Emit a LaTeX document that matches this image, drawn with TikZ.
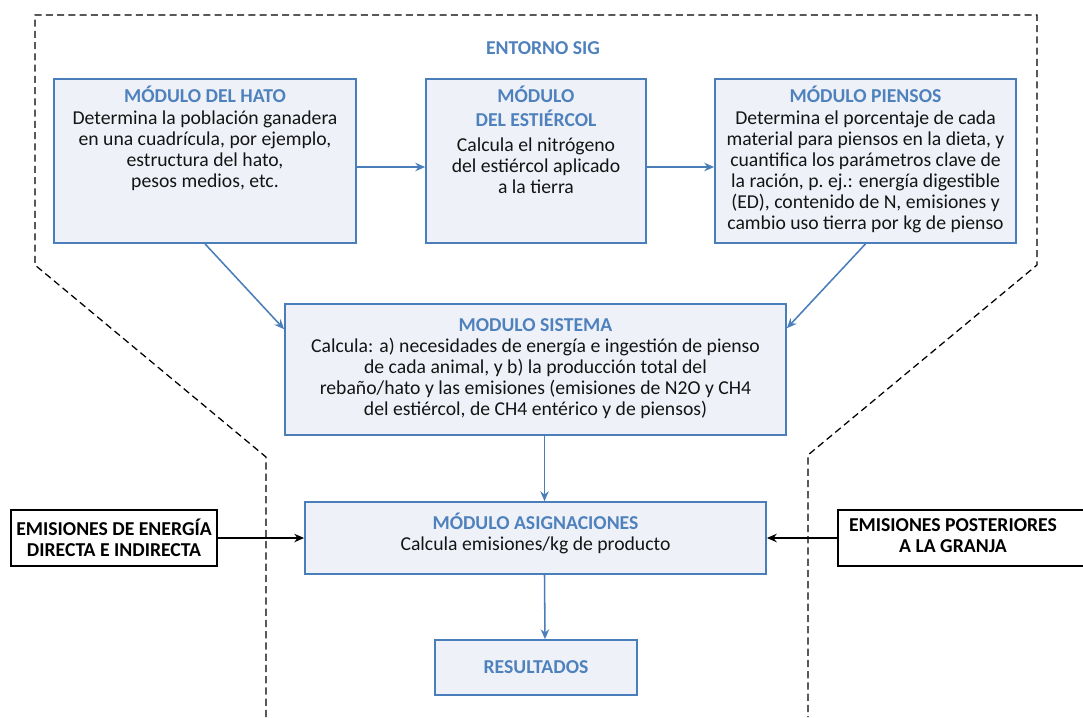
\documentclass[tikz,border=0pt]{standalone}
\usepackage{fontspec}
\setmainfont{Carlito}
\usepackage{xcolor}
\usetikzlibrary{arrows.meta,positioning,calc}

\definecolor{modline}{RGB}{74,126,187}
\definecolor{modfill}{RGB}{238,242,248}
\definecolor{headblue}{RGB}{79,129,189}
\definecolor{bodytext}{RGB}{20,20,20}

\begin{document}
\begin{tikzpicture}[x=0.025cm, y=-0.025cm,
    modbox/.style={draw=modline, line width=1.2pt, fill=modfill, inner sep=0pt},
    modtxt/.style={align=center, inner sep=0pt, font=\fontsize{14}{15}\selectfont\color{bodytext}},
    head/.style={font=\fontsize{14}{15}\selectfont\bfseries\color{headblue}},
    outbox/.style={draw=black, line width=1.3pt, fill=white, align=center, font=\fontsize{14}{15}\selectfont\bfseries},
    arrow/.style={-{Stealth[length=7pt,width=6pt]}, draw=modline, line width=1.1pt},
    blackarrow/.style={-{Stealth[length=7pt,width=6pt]}, draw=black, line width=1pt}
]
\useasboundingbox (0,0) rectangle (1083,717);

\draw[dashed, line width=0.9pt, dash pattern=on 5pt off 3pt]
  (266,717) -- (266,457) -- (35,265) -- (35,15) -- (1037,15) -- (1037,265) -- (808,455) -- (808,717);

\node[head] (sig) at (543,48) {ENTORNO SIG};

\node[modbox, minimum width=7.55cm, minimum height=4.1cm] (hato) at (205,161) {};
\node[modbox, minimum width=5.5cm, minimum height=4.1cm] (est) at (536,161) {};
\node[modbox, minimum width=7.525cm, minimum height=4.1cm] (piensos) at (865.5,161) {};
\node[modbox, minimum width=12.525cm, minimum height=3.275cm] (sistema) at (535.5,369.5) {};
\node[modbox, minimum width=11.525cm, minimum height=1.8cm] (asign) at (535.5,538) {};
\node[modbox, minimum width=5.05cm, minimum height=1.375cm] (result) at (536,667.5) {};

\node[modtxt, below=0.2cm of hato.north] (hatotxt) {
  {\bfseries\color{headblue}MÓDULO DEL HATO}\\
  Determina la población ganadera\\
  en una cuadrícula, por ejemplo,\\
  estructura del hato,\\
  pesos medios, etc.
};
\node[modtxt, below=0.2cm of est.north] (esttxt) {
  {\bfseries\color{headblue}MÓDULO}\\[2pt]
  {\bfseries\color{headblue}DEL ESTIÉRCOL}\\[2.5pt]
  Calcula el nitrógeno\\
  del estiércol aplicado\\
  a la tierra
};
\node[modtxt, below=0.2cm of piensos.north] (pienstxt) {
  {\bfseries\color{headblue}MÓDULO PIENSOS}\\
  Determina el porcentaje de cada\\
  material para piensos en la dieta, y\\
  cuantifica los parámetros clave de\\
  la ración, p.\ ej.: energía digestible\\
  (ED), contenido de N, emisiones y\\
  cambio uso tierra por kg de pienso
};
\node[modtxt, below=0.38cm of sistema.north] (sisttxt) {
  {\bfseries\color{headblue}MODULO SISTEMA}\\
  Calcula: a) necesidades de energía e ingestión de pienso\\
  de cada animal, y b) la producción total del\\
  rebaño/hato y las emisiones (emisiones de N2O y CH4\\
  del estiércol, de CH4 entérico y de piensos)
};
\node[modtxt, below=0.28cm of asign.north] (asigntxt) {
  {\bfseries\color{headblue}MÓDULO ASIGNACIONES}\\
  Calcula emisiones/kg de producto
};
\node[head] (resulttxt) at (result) {RESULTADOS};

\node[outbox, minimum width=5.15cm, minimum height=1.4cm] (energia) at (114,538) {EMISIONES DE ENERGÍA\\DIRECTA E INDIRECTA};
\node[draw=black, line width=1.3pt, fill=white, font=\fontsize{14}{15}\selectfont\bfseries,
  anchor=west, minimum width=6.45cm, minimum height=1.4cm] (poster) at (837,538)
  {\begin{tabular}{@{}c@{}}EMISIONES POSTERIORES\\A LA GRANJA\end{tabular}\kern0.7cm};

\draw[arrow] ($(hato.east)+(0,6)$) -- ($(est.west)+(0,6)$);
\draw[arrow] ($(est.east)+(0,6)$) -- ($(piensos.west)+(0,6)$);
\draw[arrow] (hato.south) -- ($(sistema.north west)+(0,26)$);
\draw[arrow] (piensos.south) -- ($(sistema.north east)+(0,25)$);
\draw[arrow] ($(sistema.south)+(9,0)$) -- ($(asign.north)+(9,0)$);
\draw[arrow] ($(asign.south)+(9,0)$) -- ($(result.north)+(9,0)$);
\draw[blackarrow] (energia.east) -- (asign.west);
\draw[blackarrow] (poster.west) -- (asign.east);

\end{tikzpicture}
\end{document}
